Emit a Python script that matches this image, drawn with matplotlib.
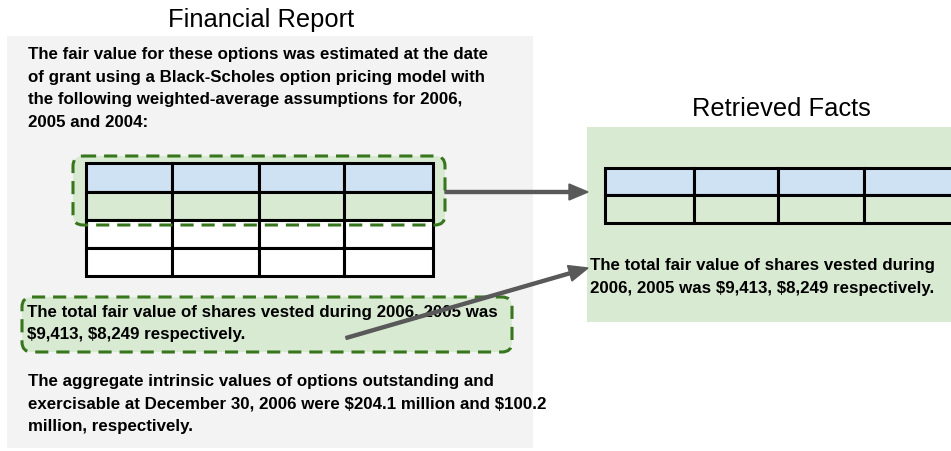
import matplotlib
matplotlib.use('Agg')
import matplotlib.pyplot as plt
from matplotlib.patches import Rectangle, FancyBboxPatch

plt.rcParams['font.family'] = ['Liberation Sans', 'DejaVu Sans']
plt.rcParams['text.parse_math'] = False

# text content
title_left = 'Financial Report'
title_right = 'Retrieved Facts'
para_top = ['The fair value for these options was estimated at the date',
            'of grant using a Black-Scholes option pricing model with',
            'the following weighted-average assumptions for 2006,',
            '2005 and 2004:']
para_fact = ['The total fair value of shares vested during 2006, 2005 was',
             '$9,413, $8,249 respectively.']
para_bottom = ['The aggregate intrinsic values of options outstanding and',
               'exercisable at December 30, 2006 were $204.1 million and $100.2',
               'million, respectively.']
fact_right = ['The total fair value of shares vested during',
              '2006, 2005 was $9,413, $8,249 respectively.']

# table layout (pixel grid)
left_cols = [86, 172, 259, 344, 433]
left_rows = [163, 192, 220, 248, 276]
left_fill = ['#cfe2f3', '#d9ead3', 'white', 'white']
right_cols = [605, 694, 778, 864, 954]
right_rows = [168, 195, 223]
right_fill = ['#cfe2f3', '#d9ead3']

GRAY = '#f3f3f3'
GREEN = '#d9ead3'
DARKGREEN = '#38761d'
ARROW = '#595959'

W, H = 951, 451
fig = plt.figure(figsize=(W / 100, H / 100), dpi=100)
ax = fig.add_axes([0, 0, 1, 1])
ax.set_xlim(0, W)
ax.set_ylim(H, 0)
ax.axis('off')


def draw_table(cols, rows, fills):
    for r in range(len(rows) - 1):
        for c in range(len(cols) - 1):
            ax.add_patch(Rectangle((cols[c], rows[r]), cols[c + 1] - cols[c],
                                   rows[r + 1] - rows[r], facecolor=fills[r],
                                   edgecolor='black', linewidth=2.2, zorder=3))


def dashed_box(x0, y0, x1, y1):
    ax.add_patch(FancyBboxPatch((x0, y0), x1 - x0, y1 - y0,
                                boxstyle='round,pad=0,rounding_size=10',
                                facecolor=GREEN, edgecolor='none', zorder=1.5))
    edge = FancyBboxPatch((x0, y0), x1 - x0, y1 - y0,
                          boxstyle='round,pad=0,rounding_size=10',
                          facecolor='none', edgecolor=DARKGREEN,
                          linewidth=2.2, zorder=5)
    edge.set_linestyle((0, (4.3, 2.6)))
    ax.add_patch(edge)


def lines(x, y0, texts, dy=22.7):
    for i, t in enumerate(texts):
        ax.text(x, y0 + i * dy, t, fontsize=12.2, fontweight='bold',
                ha='left', va='baseline', zorder=6)


# left panel
ax.add_patch(Rectangle((7, 36), 526, 412, facecolor=GRAY, edgecolor='none', zorder=1))
ax.text(261, 20, title_left, fontsize=18.4, ha='center', va='center')
lines(28, 59, para_top)

dashed_box(73, 156, 445, 225)
draw_table(left_cols, left_rows, left_fill)

dashed_box(22, 297, 512, 352)
lines(27, 317, para_fact, dy=22)
lines(28, 386, para_bottom)

# right panel
ax.add_patch(Rectangle((587, 127), W - 587 + 5, 195, facecolor=GREEN, edgecolor='none', zorder=1))
ax.text(781, 109, title_right, fontsize=18.4, ha='center', va='center')
draw_table(right_cols, right_rows, right_fill)
lines(590, 270, fact_right)

# arrows
ax.arrow(445, 192, 588 - 445, 0, width=3, head_width=16, head_length=19,
         length_includes_head=True, color=ARROW, zorder=7)
ax.arrow(346, 338, 588 - 346, 268 - 338, width=3, head_width=16, head_length=19,
         length_includes_head=True, color=ARROW, zorder=7)

fig.savefig('out.png', dpi=100)
plt.close(fig)
